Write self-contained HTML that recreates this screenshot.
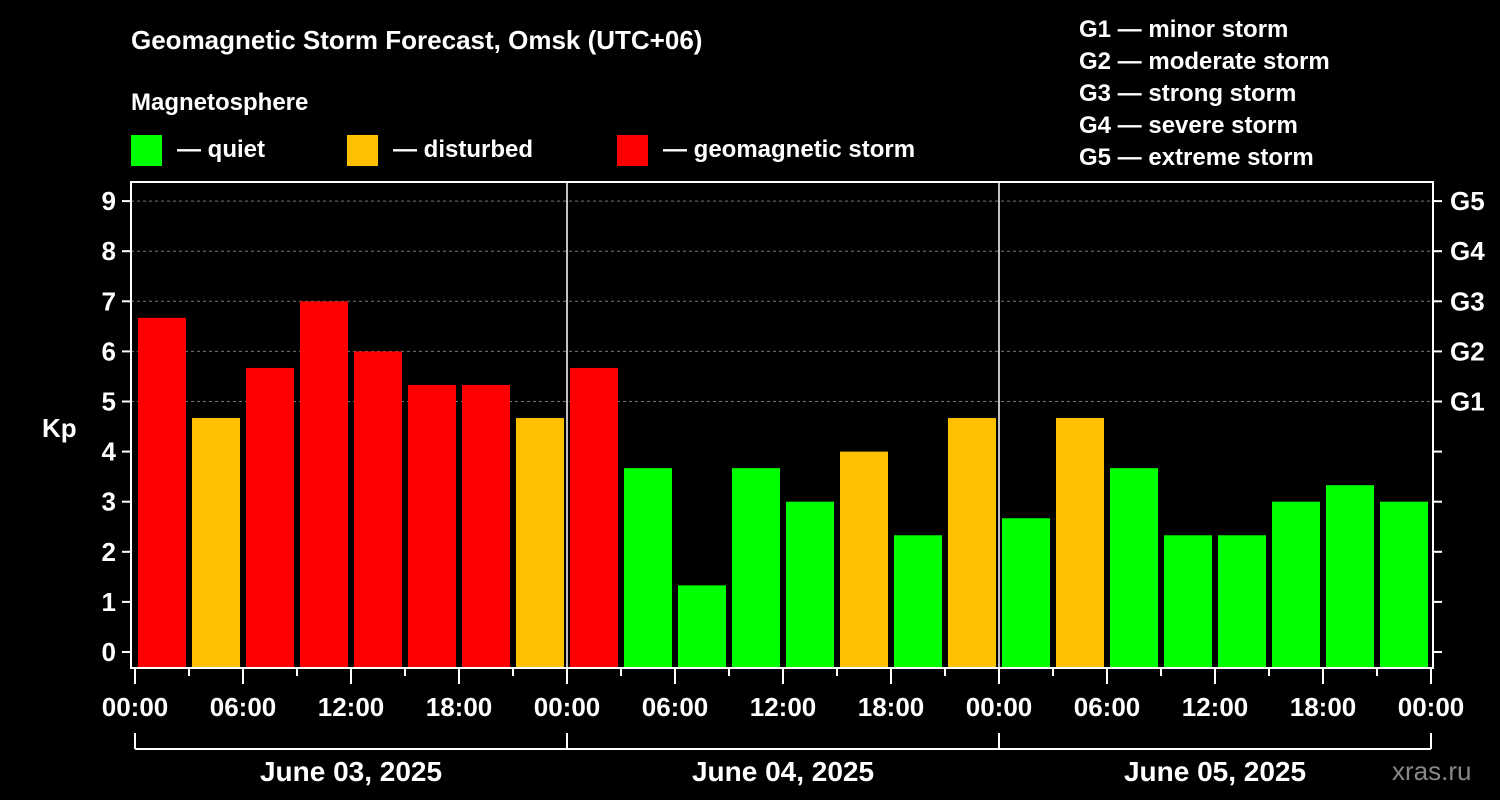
<!DOCTYPE html>
<html><head><meta charset="utf-8"><style>
body{margin:0;background:#000;}
svg{display:block;font-family:"Liberation Sans",sans-serif;font-weight:bold;}
</style></head><body>
<svg id="c" width="1500" height="800" viewBox="0 0 1500 800">
<rect width="1500" height="800" fill="#000"/>
<text x="131" y="49" fill="#fff" font-size="26">Geomagnetic Storm Forecast, Omsk (UTC+06)</text>
<text x="131" y="110" fill="#fff" font-size="24">Magnetosphere</text>
<g><rect x="131" y="135" width="31" height="31" fill="#00ff00"/><text x="177" y="157" fill="#fff" font-size="24">— quiet</text></g>
<g><rect x="347" y="135" width="31" height="31" fill="#ffc000"/><text x="393" y="157" fill="#fff" font-size="24">— disturbed</text></g>
<g><rect x="617" y="135" width="31" height="31" fill="#ff0000"/><text x="663" y="157" fill="#fff" font-size="24">— geomagnetic storm</text></g>
<g fill="#fff" font-size="24">
<text x="1079" y="37">G1 — minor storm</text>
<text x="1079" y="69">G2 — moderate storm</text>
<text x="1079" y="101">G3 — strong storm</text>
<text x="1079" y="133">G4 — severe storm</text>
<text x="1079" y="165">G5 — extreme storm</text>
</g>
<text x="42" y="437" fill="#fff" font-size="26">Kp</text>
<text x="1392" y="780" fill="#888" font-size="26" font-weight="normal">xras.ru</text>
<g id="plot"></g>
</svg>
<script>
const kpValues=[6.67,4.67,5.67,7,6,5.33,5.33,4.67,5.67,3.67,1.33,3.67,3,4,2.33,4.67,2.67,4.67,3.67,2.33,2.33,3,3.33,3];
const dayLabels=["June 03, 2025","June 04, 2025","June 05, 2025"];
const hourLabels=["00:00","06:00","12:00","18:00"];
const yTicks=[0,1,2,3,4,5,6,7,8,9];
const gLabels=["G1","G2","G3","G4","G5"];
const NS="http://www.w3.org/2000/svg";
const g=document.getElementById('plot');
const L=131,R=1433,T=182,B=668,X0=135,DAY=432;
const y=v=>652-v*50.1;
const x=h=>X0+h*DAY/24;
function mk(t,a,p){const e=document.createElementNS(NS,t);for(const k in a)e.setAttribute(k,a[k]);(p||g).appendChild(e);return e;}
// grid
yTicks.forEach(v=>{if(v>=5){const l=mk('line',{x1:L,x2:R,y1:y(v),y2:y(v),stroke:'#777','stroke-dasharray':'3,3'});

}});
// bars
kpValues.forEach((v,i)=>{const c=v>=5?'#ff0000':(v>=4?'#ffc000':'#00ff00');
const r=mk('rect',{x:x(i*3)+3,y:y(v),width:48,height:B-y(v),fill:c});

});
// day separators
for(let d=1;d<3;d++){const l=mk('line',{x1:x(d*24),x2:x(d*24),y1:T,y2:B,stroke:'#fff','stroke-width':1.5});

}
// frame
const f=mk('rect',{x:L,y:T,width:R-L,height:B-T,fill:'none',stroke:'#fff','stroke-width':2});


// y ticks
yTicks.forEach(v=>{mk('line',{x1:L-9,x2:L,y1:y(v),y2:y(v),stroke:'#fff','stroke-width':2});
mk('line',{x1:R,x2:R+9,y1:y(v),y2:y(v),stroke:'#fff','stroke-width':2});
const t=mk('text',{x:L-15,y:y(v)+9,fill:'#fff','font-size':26,'text-anchor':'end'});t.textContent=v;

});
gLabels.forEach((s,i)=>{const t=mk('text',{x:R+17,y:y(5+i)+9,fill:'#fff','font-size':26});t.textContent=s;

});
// x ticks
for(let h=0;h<=72;h+=3){const major=h%6===0;mk('line',{x1:x(h),x2:x(h),y1:B,y2:B+(major?16:8),stroke:'#fff','stroke-width':2});}
for(let h=0;h<=72;h+=6){const t=mk('text',{x:x(h),y:716,fill:'#fff','font-size':26,'text-anchor':'middle'});t.textContent=hourLabels[(h/6)%4];

}
// day brackets
mk('line',{x1:x(0),x2:x(72),y1:749,y2:749,stroke:'#fff','stroke-width':2});
for(let d=0;d<=3;d++)mk('line',{x1:x(d*24),x2:x(d*24),y1:733,y2:749,stroke:'#fff','stroke-width':2});
dayLabels.forEach((s,d)=>{const t=mk('text',{x:x(d*24+12),y:781,fill:'#fff','font-size':28,'text-anchor':'middle'});t.textContent=s;

});
</script>
</body></html>
